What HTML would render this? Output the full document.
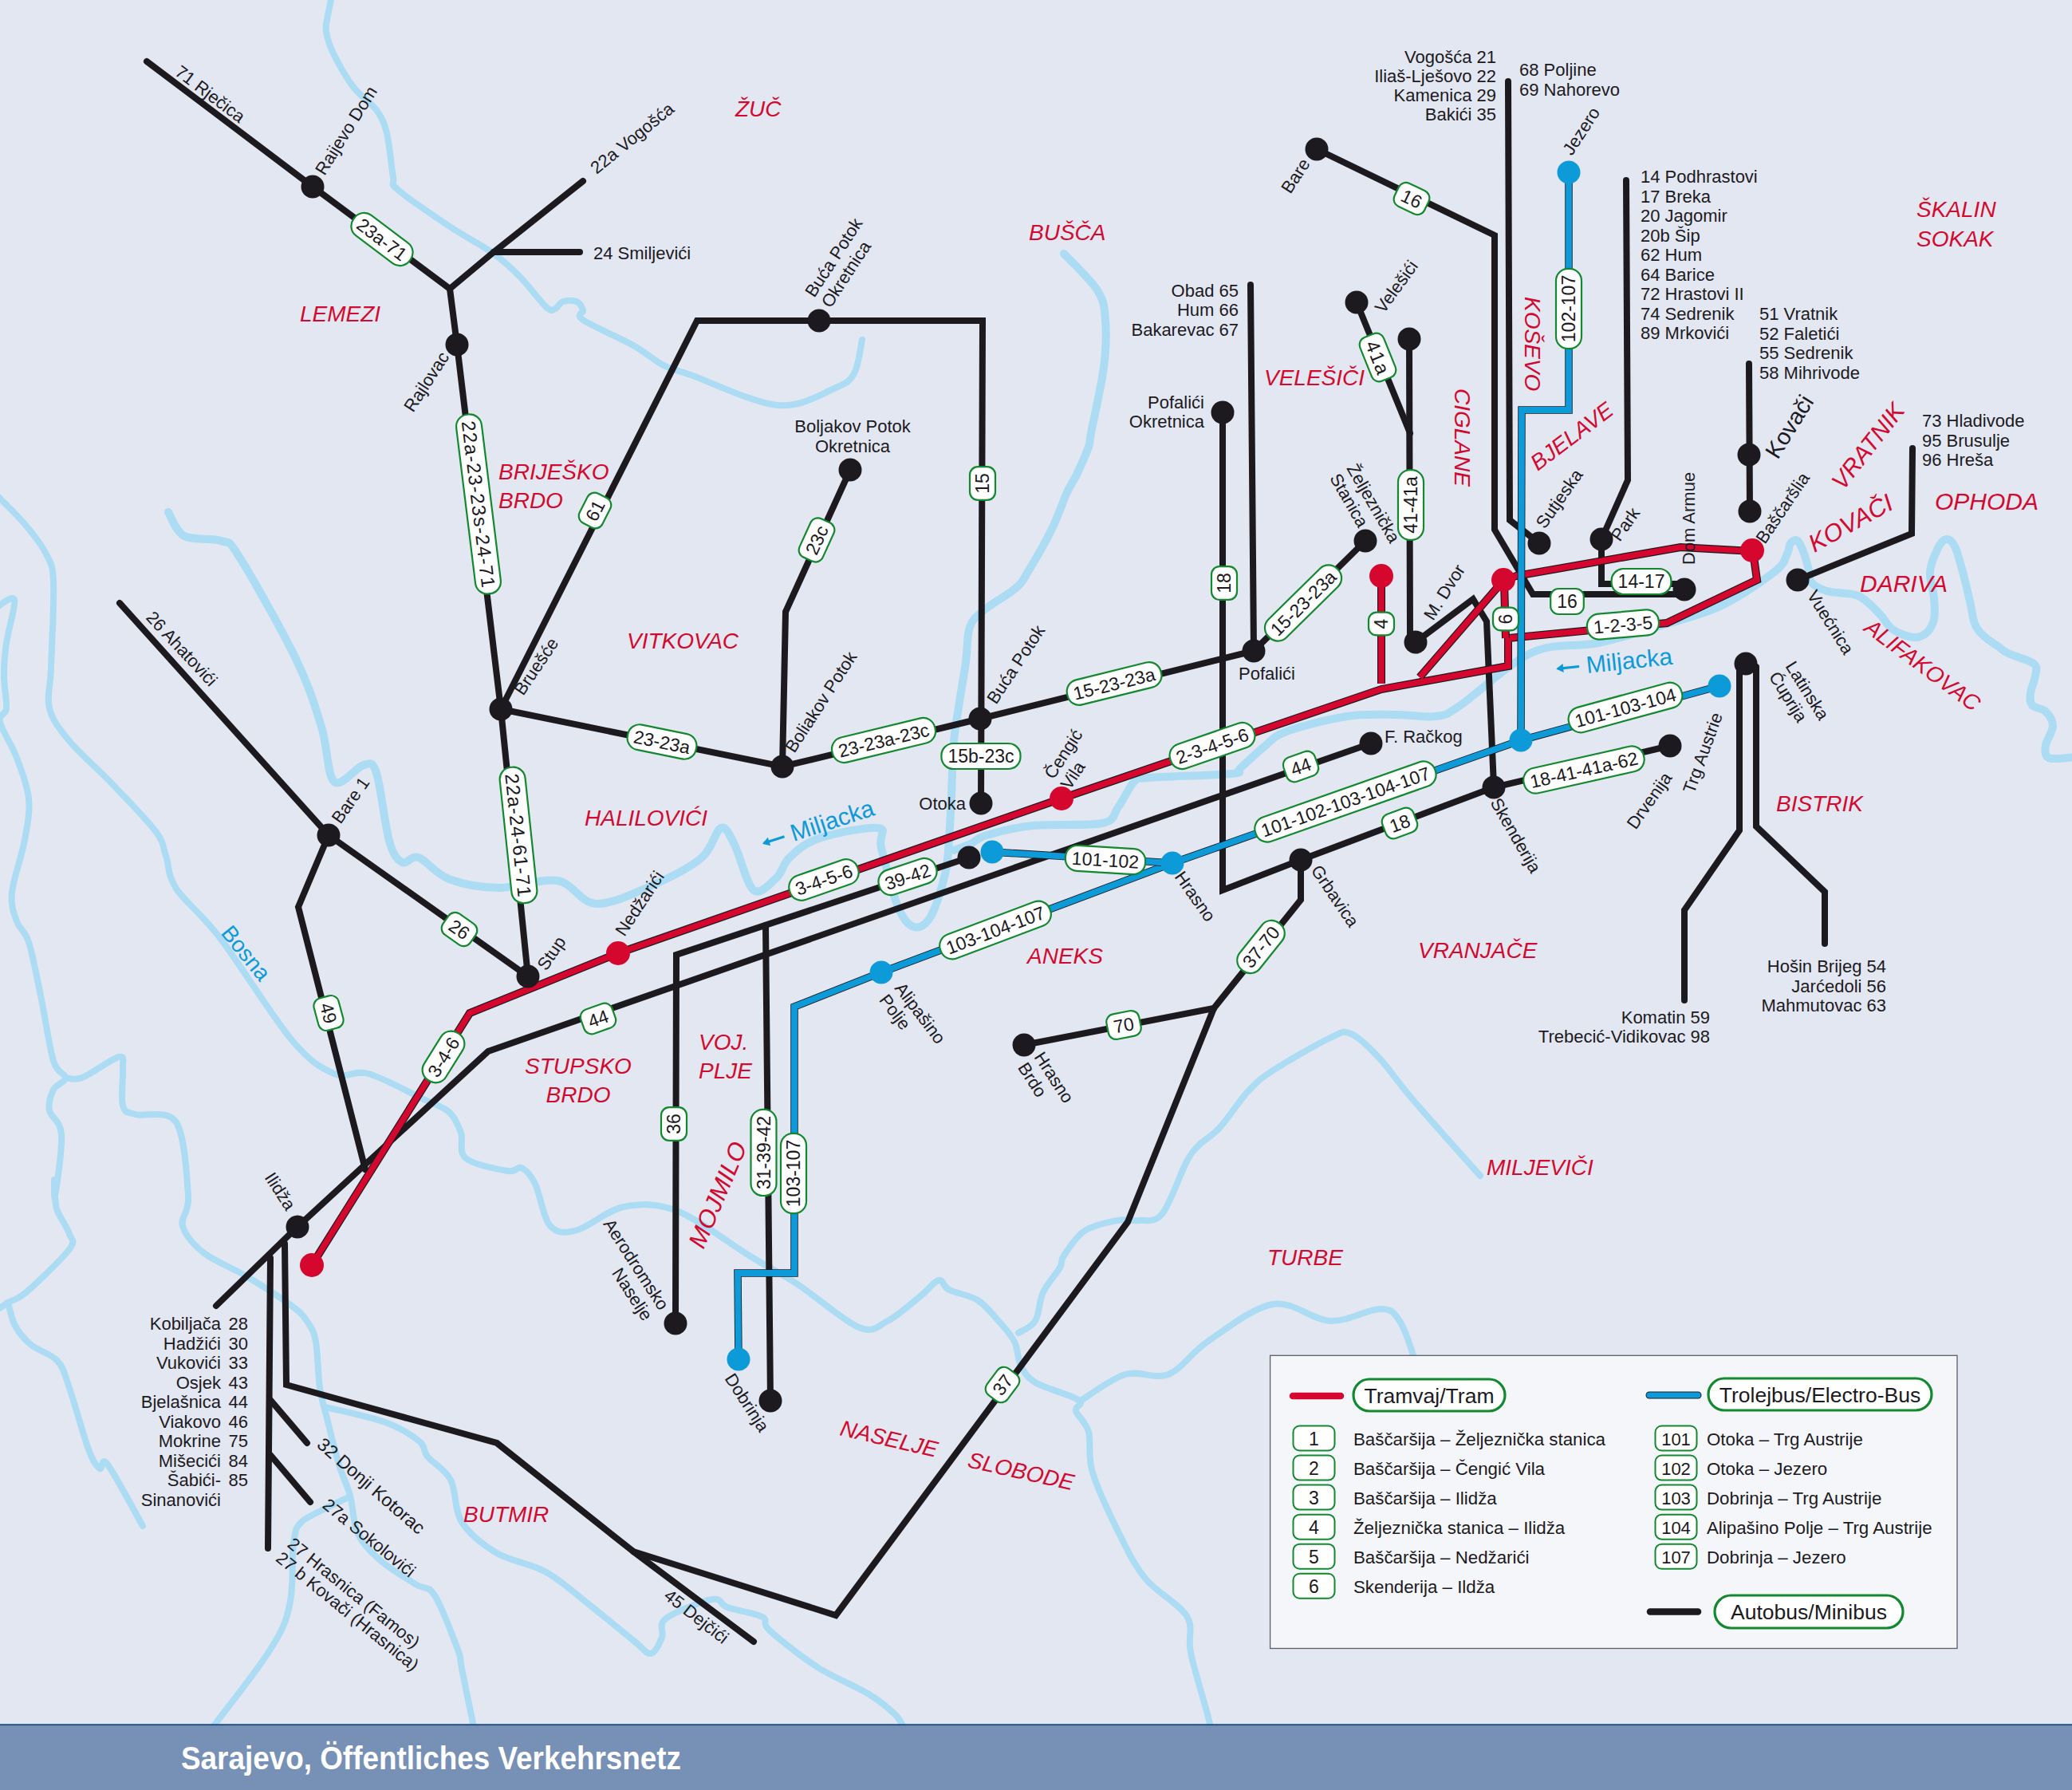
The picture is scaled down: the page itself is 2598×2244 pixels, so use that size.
<!DOCTYPE html>
<html><head><meta charset="utf-8"><style>
html,body{margin:0;padding:0;background:#e3e7f1;}
svg{display:block;font-family:"Liberation Sans", sans-serif;}
</style></head><body>
<svg width="2598" height="2244" viewBox="0 0 2598 2244">
<rect x="0" y="0" width="2598" height="2244" fill="#e3e7f1"/>
<path d="M416,-5 C415.0,0.0 411.2,17.5 410,25 C408.8,32.5 407.7,33.0 409,40 C410.3,47.0 412.3,55.5 418,67 C423.7,78.5 434.0,97.2 443,109 C452.0,120.8 465.0,128.3 472,138 C479.0,147.7 481.5,153.0 485,167 C488.5,181.0 490.7,210.2 493,222 C495.3,233.8 487.2,227.7 499,238 C510.8,248.3 544.0,270.7 564,284 C584.0,297.3 604.3,307.5 619,318 C633.7,328.5 641.0,335.8 652,347 C663.0,358.2 677.7,378.3 685,385 C692.3,391.7 692.5,388.2 696,387 C699.5,385.8 701.5,379.5 706,378 C710.5,376.5 718.8,376.2 723,378 C727.2,379.8 729.7,385.2 731,389 C732.3,392.8 720.5,393.7 731,401 C741.5,408.3 777.2,423.5 794,433 C810.8,442.5 820.0,451.8 832,458 C844.0,464.2 842.2,461.7 866,470 C889.8,478.3 945.0,505.2 975,508 C1005.0,510.8 1030.0,493.7 1046,487 C1062.0,480.3 1065.2,478.2 1071,468 C1076.8,457.8 1079.3,433.0 1081,426" fill="none" stroke="#abdcf3" stroke-width="8" stroke-linejoin="round" stroke-linecap="round"/>
<path d="M1334,318 C1341.0,325.7 1367.3,350.2 1376,364 C1384.7,377.8 1384.7,385.0 1386,401 C1387.3,417.0 1387.0,436.3 1384,460 C1381.0,483.7 1371.2,526.3 1368,543 C1364.8,559.7 1368.0,551.3 1365,560 C1362.0,568.7 1354.5,585.5 1350,595 C1345.5,604.5 1343.2,605.7 1338,617 C1332.8,628.3 1327.0,646.7 1319,663 C1311.0,679.3 1297.5,702.7 1290,715 C1282.5,727.3 1283.2,728.8 1274,737 C1264.8,745.2 1244.7,755.8 1235,764 C1225.3,772.2 1220.0,775.0 1216,786 C1212.0,797.0 1213.2,814.3 1211,830 C1208.8,845.7 1205.5,863.5 1203,880 C1200.5,896.5 1197.7,909.8 1196,929 C1194.3,948.2 1194.0,974.3 1193,995 C1192.0,1015.7 1191.3,1036.2 1190,1053 C1188.7,1069.8 1188.8,1080.0 1185,1096 C1181.2,1112.0 1173.5,1138.0 1167,1149 C1160.5,1160.0 1152.8,1164.0 1146,1162 C1139.2,1160.0 1132.8,1153.5 1126,1137 C1119.2,1120.5 1109.2,1079.5 1105,1063 C1100.8,1046.5 1114.0,1040.0 1101,1038 C1088.0,1036.0 1045.5,1044.8 1027,1051 C1008.5,1057.2 998.8,1066.8 990,1075 C981.2,1083.2 981.5,1093.2 974,1100 C966.5,1106.8 953.8,1122.8 945,1116 C936.2,1109.2 927.8,1072.0 921,1059 C914.2,1046.0 910.8,1035.3 904,1038 C897.2,1040.7 893.7,1063.3 880,1075 C866.3,1086.7 844.0,1098.3 822,1108 C800.0,1117.7 768.5,1133.7 748,1133 C727.5,1132.3 719.3,1107.3 699,1104 C678.7,1100.7 648.7,1113.3 626,1113 C603.3,1112.7 579.8,1108.3 563,1102 C546.2,1095.7 534.8,1078.5 525,1075 C515.2,1071.5 510.2,1084.5 504,1081 C497.8,1077.5 493.3,1072.7 488,1054 C482.7,1035.3 477.3,984.8 472,969 C466.7,953.2 464.8,957.2 456,959 C447.2,960.8 427.8,988.0 419,980 C410.2,972.0 411.0,936.7 403,911 C395.0,885.3 388.2,861.5 371,826 C353.8,790.5 315.7,722.7 300,698 C284.3,673.3 288.5,682.3 277,678 C265.5,673.7 242.0,678.0 231,672 C220.0,666.0 214.3,647.0 211,642" fill="none" stroke="#abdcf3" stroke-width="10" stroke-linejoin="round" stroke-linecap="round"/>
<path d="M1196,1066 C1199.5,1064.7 1210.2,1061.2 1217,1058 C1223.8,1054.8 1224.0,1050.8 1237,1047 C1250.0,1043.2 1270.8,1037.5 1295,1035 C1319.2,1032.5 1364.2,1035.8 1382,1032 C1399.8,1028.2 1395.3,1020.7 1402,1012 C1408.7,1003.3 1415.7,986.2 1422,980 C1428.3,973.8 1419.7,976.7 1440,975 C1460.3,973.3 1524.8,972.0 1544,970 C1563.2,968.0 1548.3,968.5 1555,963 C1561.7,957.5 1574.3,944.7 1584,937 C1593.7,929.3 1595.5,923.5 1613,917 C1630.5,910.5 1666.2,901.5 1689,898 C1711.8,894.5 1731.5,896.0 1750,896 C1768.5,896.0 1786.7,899.8 1800,898 C1813.3,896.2 1809.8,898.3 1830,885 C1850.2,871.7 1892.0,831.2 1921,818 C1950.0,804.8 1976.3,811.8 2004,806 C2031.7,800.2 2061.2,790.8 2087,783 C2112.8,775.2 2135.8,770.2 2159,759 C2182.2,747.8 2212.3,726.8 2226,716 C2239.7,705.2 2237.8,699.8 2241,694 C2244.2,688.2 2242.8,683.7 2245,681 C2247.2,678.3 2251.2,675.8 2254,678 C2256.8,680.2 2259.7,687.8 2262,694 C2264.3,700.2 2266.5,709.0 2268,715 C2269.5,721.0 2267.2,725.7 2271,730 C2274.8,734.3 2282.3,738.5 2291,741 C2299.7,743.5 2315.2,743.2 2323,745 C2330.8,746.8 2332.2,747.7 2338,752 C2343.8,756.3 2352.2,764.8 2358,771 C2363.8,777.2 2366.2,784.3 2373,789 C2379.8,793.7 2391.8,798.3 2399,799 C2406.2,799.7 2411.7,796.8 2416,793 C2420.3,789.2 2423.5,783.2 2425,776 C2426.5,768.8 2425.8,759.8 2425,750 C2424.2,740.2 2419.3,727.2 2420,717 C2420.7,706.8 2425.7,695.8 2429,689 C2432.3,682.2 2436.3,676.7 2440,676 C2443.7,675.3 2447.5,678.2 2451,685 C2454.5,691.8 2457.8,705.5 2461,717 C2464.2,728.5 2467.5,743.2 2470,754 C2472.5,764.8 2473.2,774.8 2476,782 C2478.8,789.2 2482.2,792.3 2487,797 C2491.8,801.7 2499.8,806.3 2505,810 C2510.2,813.7 2510.5,815.3 2518,819 C2525.5,822.7 2544.3,827.3 2550,832 C2555.7,836.7 2552.7,840.8 2552,847 C2551.3,853.2 2546.7,862.8 2546,869 C2545.3,875.2 2544.8,880.2 2548,884 C2551.2,887.8 2560.7,887.7 2565,892 C2569.3,896.3 2574.0,903.0 2574,910 C2574.0,917.0 2566.2,927.5 2565,934 C2563.8,940.5 2564.2,946.2 2567,949 C2569.8,951.8 2576.0,951.0 2582,951 C2588.0,951.0 2599.5,949.3 2603,949" fill="none" stroke="#abdcf3" stroke-width="10" stroke-linejoin="round" stroke-linecap="round"/>
<path d="M-5,620 C1.0,626.2 20.7,644.8 31,657 C41.3,669.2 51.0,681.0 57,693 C63.0,705.0 65.8,705.0 67,729 C68.2,753.0 64.8,810.5 64,837 C63.2,863.5 58.2,872.7 62,888 C65.8,903.3 74.2,913.5 87,929 C99.8,944.5 121.0,962.2 139,981 C157.0,999.8 183.5,1026.7 195,1042 C206.5,1057.3 203.7,1061.0 208,1073 C212.3,1085.0 209.7,1096.8 221,1114 C232.3,1131.2 251.8,1144.3 276,1176 C300.2,1207.7 342.2,1275.7 366,1304 C389.8,1332.3 403.0,1339.0 419,1346 C435.0,1353.0 443.3,1340.7 462,1346 C480.7,1351.3 514.2,1370.0 531,1378 C547.8,1386.0 555.2,1387.0 563,1394 C570.8,1401.0 574.5,1410.3 578,1420 C581.5,1429.7 574.2,1444.0 584,1452 C593.8,1460.0 625.3,1466.0 637,1468 C648.7,1470.0 648.3,1461.3 654,1464 C659.7,1466.7 665.0,1471.8 671,1484 C677.0,1496.2 681.2,1527.3 690,1537 C698.8,1546.7 708.7,1546.0 724,1542 C739.3,1538.0 761.2,1517.0 782,1513 C802.8,1509.0 822.5,1507.7 849,1518 C875.5,1528.3 915.8,1559.7 941,1575 C966.2,1590.3 977.3,1595.2 1000,1610 C1022.7,1624.8 1058.2,1656.3 1077,1664 C1095.8,1671.7 1100.2,1662.5 1113,1656 C1125.8,1649.5 1143.3,1633.5 1154,1625 C1164.7,1616.5 1171.0,1606.3 1177,1605 C1183.0,1603.7 1181.8,1612.8 1190,1617 C1198.2,1621.2 1215.7,1623.5 1226,1630 C1236.3,1636.5 1244.3,1647.3 1252,1656 C1259.7,1664.7 1267.3,1672.7 1272,1682 C1276.7,1691.3 1275.7,1703.5 1280,1712 C1284.3,1720.5 1287.3,1726.5 1298,1733 C1308.7,1739.5 1334.5,1746.7 1344,1751 C1353.5,1755.3 1354.2,1756.0 1355,1759 C1355.8,1762.0 1347.3,1763.0 1349,1769 C1350.7,1775.0 1361.5,1782.2 1365,1795 C1368.5,1807.8 1363.2,1823.8 1370,1846 C1376.8,1868.2 1394.8,1905.7 1406,1928 C1417.2,1950.3 1423.3,1963.7 1437,1980 C1450.7,1996.3 1478.7,2010.7 1488,2026 C1497.3,2041.3 1488.7,2051.5 1493,2072 C1497.3,2092.5 1509.7,2132.7 1514,2149 C1518.3,2165.3 1518.2,2166.5 1519,2170" fill="none" stroke="#abdcf3" stroke-width="8" stroke-linejoin="round" stroke-linecap="round"/>
<path d="M1277,1671 C1280.5,1668.5 1292.8,1664.5 1298,1656 C1303.2,1647.5 1302.8,1631.2 1308,1620 C1313.2,1608.8 1324.7,1596.7 1329,1589 C1333.3,1581.3 1328.8,1581.7 1334,1574 C1339.2,1566.3 1348.8,1550.3 1360,1543 C1371.2,1535.7 1389.8,1532.2 1401,1530 C1412.2,1527.8 1417.7,1531.3 1427,1530 C1436.3,1528.7 1446.8,1534.3 1457,1522 C1467.2,1509.7 1480.2,1470.5 1488,1456 C1495.8,1441.5 1497.2,1442.0 1504,1435 C1510.8,1428.0 1518.8,1425.2 1529,1414 C1539.2,1402.8 1553.8,1380.0 1565,1368 C1576.2,1356.0 1578.8,1353.2 1596,1342 C1613.2,1330.8 1651.7,1308.7 1668,1301 C1684.3,1293.3 1683.7,1291.7 1694,1296 C1704.3,1300.3 1717.2,1313.3 1730,1327 C1742.8,1340.7 1750.0,1353.5 1771,1378 C1792.0,1402.5 1841.8,1458.0 1856,1474" fill="none" stroke="#abdcf3" stroke-width="8" stroke-linejoin="round" stroke-linecap="round"/>
<path d="M1355,1756 C1364.3,1750.5 1392.7,1728.5 1411,1723 C1429.3,1717.5 1447.8,1729.8 1465,1723 C1482.2,1716.2 1492.2,1696.7 1514,1682 C1535.8,1667.3 1570.3,1639.3 1596,1635 C1621.7,1630.7 1645.7,1655.0 1668,1656 C1690.3,1657.0 1715.5,1641.0 1730,1641 C1744.5,1641.0 1747.3,1644.2 1755,1656 C1762.7,1667.8 1771.8,1698.0 1776,1712 C1780.2,1726.0 1779.3,1735.3 1780,1740" fill="none" stroke="#abdcf3" stroke-width="8" stroke-linejoin="round" stroke-linecap="round"/>
<path d="M-5,762 C-1.2,760.3 15.8,744.7 18,752 C20.2,759.3 10.2,790.2 8,806 C5.8,821.8 5.0,833.3 5,847 C5.0,860.7 8.8,878.3 8,888 C7.2,897.7 -2.2,894.7 0,905 C2.2,915.3 15.0,934.0 21,950 C27.0,966.0 34.3,983.8 36,1001 C37.7,1018.2 34.5,1033.3 31,1053 C27.5,1072.7 16.7,1102.0 15,1119 C13.3,1136.0 17.5,1144.7 21,1155 C24.5,1165.3 31.0,1165.5 36,1181 C41.0,1196.5 45.8,1223.2 51,1248 C56.2,1272.8 61.8,1312.8 67,1330 C72.2,1347.2 82.0,1345.0 82,1351 C82.0,1357.0 70.3,1359.2 67,1366 C63.7,1372.8 60.3,1382.7 62,1392 C63.7,1401.3 75.8,1404.0 77,1422 C78.2,1440.0 70.5,1490.5 69,1500 C67.5,1509.5 68.2,1482.5 68,1479" fill="none" stroke="#abdcf3" stroke-width="8" stroke-linejoin="round" stroke-linecap="round"/>
<path d="M82,1351 C85.5,1351.0 91.8,1355.3 103,1351 C114.2,1346.7 140.5,1326.8 149,1325 C157.5,1323.2 153.2,1329.8 154,1340 C154.8,1350.2 151.3,1376.5 154,1386 C156.7,1395.5 158.8,1393.5 170,1397 C181.2,1400.5 210.0,1389.8 221,1407 C232.0,1424.2 234.7,1478.3 236,1500 C237.3,1521.7 225.7,1525.2 229,1537 C232.3,1548.8 242.7,1560.5 256,1571 C269.3,1581.5 290.5,1588.8 309,1600 C327.5,1611.2 354.2,1628.3 367,1638 C379.8,1647.7 381.2,1650.7 386,1658 C390.8,1665.3 393.5,1668.3 396,1682 C398.5,1695.7 398.7,1724.0 401,1740 C403.3,1756.0 406.0,1762.0 410,1778 C414.0,1794.0 420.2,1819.8 425,1836 C429.8,1852.2 435.0,1860.5 439,1875 C443.0,1889.5 442.5,1909.3 449,1923 C455.5,1936.7 466.0,1946.5 478,1957 C490.0,1967.5 509.8,1978.8 521,1986 C532.2,1993.2 536.2,1986.3 545,2000 C553.8,2013.7 568.3,2052.7 574,2068 C579.7,2083.3 575.7,2075.8 579,2092 C582.3,2108.2 591.5,2152.8 594,2165" fill="none" stroke="#abdcf3" stroke-width="8" stroke-linejoin="round" stroke-linecap="round"/>
<path d="M69,1500 C69.5,1503.0 69.0,1510.2 72,1518 C75.0,1525.8 84.5,1539.0 87,1547 C89.5,1555.0 95.8,1554.0 87,1566 C78.2,1578.0 46.8,1607.8 34,1619 C21.2,1630.2 16.5,1629.0 10,1633 C3.5,1637.0 -2.5,1641.3 -5,1643" fill="none" stroke="#abdcf3" stroke-width="8" stroke-linejoin="round" stroke-linecap="round"/>
<path d="M10,1633 C11.5,1637.8 14.2,1653.2 19,1662 C23.8,1670.8 30.2,1678.7 39,1686 C47.8,1693.3 64.0,1697.0 72,1706 C80.0,1715.0 80.5,1721.5 87,1740 C93.5,1758.5 104.7,1800.2 111,1817 C117.3,1833.8 121.0,1837.8 125,1841 C129.0,1844.2 126.0,1824.0 135,1836 C144.0,1848.0 171.7,1900.2 179,1913" fill="none" stroke="#abdcf3" stroke-width="8" stroke-linejoin="round" stroke-linecap="round"/>
<path d="M439,1876 C432.5,1879.2 410.5,1889.3 400,1895 C389.5,1900.7 381.3,1903.3 376,1910 C370.7,1916.7 371.5,1913.5 368,1935 C364.5,1956.5 371.8,2000.7 355,2039 C338.2,2077.3 281.7,2144.0 267,2165" fill="none" stroke="#abdcf3" stroke-width="8" stroke-linejoin="round" stroke-linecap="round"/>
<path d="M408,1764 C420.5,1767.2 463.3,1775.8 483,1783 C502.7,1790.2 517.2,1799.8 526,1807 C534.8,1814.2 529.5,1818.0 536,1826 C542.5,1834.0 557.8,1841.3 565,1855 C572.2,1868.7 569.3,1892.7 579,1908 C588.7,1923.3 605.3,1936.5 623,1947 C640.7,1957.5 665.0,1959.7 685,1971 C705.0,1982.3 724.5,2000.5 743,2015 C761.5,2029.5 783.8,2048.3 796,2058 C808.2,2067.7 810.3,2073.8 816,2073 C821.7,2072.2 826.8,2060.3 830,2053 C833.2,2045.7 824.5,2037.0 835,2029 C845.5,2021.0 880.2,2007.3 893,2005 C905.8,2002.7 901.5,2011.3 912,2015 C922.5,2018.7 947.2,2022.2 956,2027 C964.8,2031.8 953.5,2033.5 965,2044 C976.5,2054.5 1004.5,2076.8 1025,2090 C1045.5,2103.2 1072.0,2113.3 1088,2123 C1104.0,2132.7 1113.5,2141.0 1121,2148 C1128.5,2155.0 1131.0,2162.2 1133,2165" fill="none" stroke="#abdcf3" stroke-width="8" stroke-linejoin="round" stroke-linecap="round"/>
<polyline points="184,77 392,234 564,362" fill="none" stroke="#1c1a1e" stroke-width="8" stroke-linejoin="miter" stroke-linecap="round"/>
<polyline points="564,362 619,316 731,227" fill="none" stroke="#1c1a1e" stroke-width="8" stroke-linejoin="miter" stroke-linecap="round"/>
<polyline points="619,316 727,316" fill="none" stroke="#1c1a1e" stroke-width="8" stroke-linejoin="miter" stroke-linecap="round"/>
<polyline points="564,362 573,432 628,889 662,1224" fill="none" stroke="#1c1a1e" stroke-width="8" stroke-linejoin="miter" stroke-linecap="round"/>
<polyline points="628,889 874,402 1232,402 1230,1007" fill="none" stroke="#1c1a1e" stroke-width="8" stroke-linejoin="miter" stroke-linecap="round"/>
<polyline points="628,889 981,961 1229,901 1572,816" fill="none" stroke="#1c1a1e" stroke-width="8" stroke-linejoin="miter" stroke-linecap="round"/>
<polyline points="981,961 985,767 1066,589" fill="none" stroke="#1c1a1e" stroke-width="8" stroke-linejoin="miter" stroke-linecap="round"/>
<polyline points="150,756 412,1047 662,1224" fill="none" stroke="#1c1a1e" stroke-width="8" stroke-linejoin="miter" stroke-linecap="round"/>
<polyline points="412,1047 374,1137 458,1466" fill="none" stroke="#1c1a1e" stroke-width="8" stroke-linejoin="miter" stroke-linecap="round"/>
<polyline points="1719,932 612,1318 373,1538 271,1637" fill="none" stroke="#1c1a1e" stroke-width="8" stroke-linejoin="miter" stroke-linecap="round"/>
<polyline points="847,1659 848,1197 1215,1075" fill="none" stroke="#1c1a1e" stroke-width="8" stroke-linejoin="miter" stroke-linecap="round"/>
<polyline points="960,1160 966,1756" fill="none" stroke="#1c1a1e" stroke-width="8" stroke-linejoin="miter" stroke-linecap="round"/>
<polyline points="1533,517 1533,1116 1631,1078 1873,987 2094,935" fill="none" stroke="#1c1a1e" stroke-width="8" stroke-linejoin="miter" stroke-linecap="round"/>
<polyline points="1631,1078 1631,1128 1522,1264 1414,1532 1048,2025 794,1945 623,1809 359,1736 357,1559" fill="none" stroke="#1c1a1e" stroke-width="8" stroke-linejoin="miter" stroke-linecap="round"/>
<polyline points="794,1945 945,2058" fill="none" stroke="#1c1a1e" stroke-width="8" stroke-linejoin="miter" stroke-linecap="round"/>
<polyline points="1284,1310 1522,1264" fill="none" stroke="#1c1a1e" stroke-width="8" stroke-linejoin="miter" stroke-linecap="round"/>
<polyline points="1651,187 1874,295 1874,664 1922,745 2112,745" fill="none" stroke="#1c1a1e" stroke-width="8" stroke-linejoin="miter" stroke-linecap="round"/>
<polyline points="1891,102 1893,652 1930,681" fill="none" stroke="#1c1a1e" stroke-width="8" stroke-linejoin="miter" stroke-linecap="round"/>
<polyline points="2039,226 2041,602 2008,676 2008,732 2112,732" fill="none" stroke="#1c1a1e" stroke-width="8" stroke-linejoin="miter" stroke-linecap="round"/>
<polyline points="1701,379 1768,543" fill="none" stroke="#1c1a1e" stroke-width="8" stroke-linejoin="miter" stroke-linecap="round"/>
<polyline points="1767,425 1768,805" fill="none" stroke="#1c1a1e" stroke-width="8" stroke-linejoin="miter" stroke-linecap="round"/>
<polyline points="1775,805 1847,751 1864,779 1873,985" fill="none" stroke="#1c1a1e" stroke-width="8" stroke-linejoin="miter" stroke-linecap="round"/>
<polyline points="1568,357 1572,816 1712,678" fill="none" stroke="#1c1a1e" stroke-width="8" stroke-linejoin="miter" stroke-linecap="round"/>
<polyline points="2193,456 2194,641" fill="none" stroke="#1c1a1e" stroke-width="8" stroke-linejoin="miter" stroke-linecap="round"/>
<polyline points="2398,562 2397,669 2254,727" fill="none" stroke="#1c1a1e" stroke-width="8" stroke-linejoin="miter" stroke-linecap="round"/>
<polyline points="2181,836 2181,1041 2112,1141 2112,1254" fill="none" stroke="#1c1a1e" stroke-width="8" stroke-linejoin="miter" stroke-linecap="round"/>
<polyline points="2202,836 2202,1036 2288,1118 2288,1183" fill="none" stroke="#1c1a1e" stroke-width="8" stroke-linejoin="miter" stroke-linecap="round"/>
<polyline points="339,1577 336,1941" fill="none" stroke="#1c1a1e" stroke-width="8" stroke-linejoin="miter" stroke-linecap="round"/>
<polyline points="339,1755 385,1809" fill="none" stroke="#1c1a1e" stroke-width="8" stroke-linejoin="miter" stroke-linecap="round"/>
<polyline points="339,1824 389,1883" fill="none" stroke="#1c1a1e" stroke-width="8" stroke-linejoin="miter" stroke-linecap="round"/>
<polyline points="391,1586 589,1270 775,1195 1331,1001 1732,864 1891,835 1891,800 2090,781 2203,727 2198,691 2107,686 1901,722 1884,729 1780,849" fill="none" stroke="#1c1a1e" stroke-width="10" stroke-linejoin="miter" stroke-linecap="butt"/>
<polyline points="391,1586 589,1270 775,1195 1331,1001 1732,864 1891,835 1891,800 2090,781 2203,727 2198,691 2107,686 1901,722 1884,729 1780,849" fill="none" stroke="#d5072e" stroke-width="7.6" stroke-linejoin="miter" stroke-linecap="butt"/>
<polyline points="1732,722 1732,857" fill="none" stroke="#1c1a1e" stroke-width="10" stroke-linejoin="miter" stroke-linecap="butt"/>
<polyline points="1732,722 1732,857" fill="none" stroke="#d5072e" stroke-width="7.6" stroke-linejoin="miter" stroke-linecap="butt"/>
<polyline points="1886,729 1888,800" fill="none" stroke="#1c1a1e" stroke-width="10" stroke-linejoin="miter" stroke-linecap="butt"/>
<polyline points="1886,729 1888,800" fill="none" stroke="#d5072e" stroke-width="7.6" stroke-linejoin="miter" stroke-linecap="butt"/>
<polyline points="1967,216 1967,514 1908,514 1907,928 2156,860" fill="none" stroke="#1c1a1e" stroke-width="9.5" stroke-linejoin="miter" stroke-linecap="butt"/>
<polyline points="1967,216 1967,514 1908,514 1907,928 2156,860" fill="none" stroke="#0d9ad9" stroke-width="7.8" stroke-linejoin="miter" stroke-linecap="butt"/>
<polyline points="1907,928 1470,1082 1105,1219 996,1262 996,1596 925,1596 926,1704" fill="none" stroke="#1c1a1e" stroke-width="9.5" stroke-linejoin="miter" stroke-linecap="butt"/>
<polyline points="1907,928 1470,1082 1105,1219 996,1262 996,1596 925,1596 926,1704" fill="none" stroke="#0d9ad9" stroke-width="7.8" stroke-linejoin="miter" stroke-linecap="butt"/>
<polyline points="1244,1068 1470,1082" fill="none" stroke="#1c1a1e" stroke-width="9.5" stroke-linejoin="miter" stroke-linecap="butt"/>
<polyline points="1244,1068 1470,1082" fill="none" stroke="#0d9ad9" stroke-width="7.8" stroke-linejoin="miter" stroke-linecap="butt"/>
<circle cx="392" cy="234" r="14.5" fill="#1c1a1e"/>
<circle cx="573" cy="432" r="14.5" fill="#1c1a1e"/>
<circle cx="628" cy="889" r="14.5" fill="#1c1a1e"/>
<circle cx="662" cy="1224" r="14.5" fill="#1c1a1e"/>
<circle cx="412" cy="1047" r="14.5" fill="#1c1a1e"/>
<circle cx="1027" cy="402" r="14.5" fill="#1c1a1e"/>
<circle cx="1230" cy="1007" r="14.5" fill="#1c1a1e"/>
<circle cx="1229" cy="901" r="14.5" fill="#1c1a1e"/>
<circle cx="981" cy="961" r="14.5" fill="#1c1a1e"/>
<circle cx="1066" cy="589" r="14.5" fill="#1c1a1e"/>
<circle cx="1572" cy="816" r="14.5" fill="#1c1a1e"/>
<circle cx="1533" cy="517" r="14.5" fill="#1c1a1e"/>
<circle cx="1712" cy="678" r="14.5" fill="#1c1a1e"/>
<circle cx="1701" cy="379" r="14.5" fill="#1c1a1e"/>
<circle cx="1767" cy="425" r="14.5" fill="#1c1a1e"/>
<circle cx="1775" cy="805" r="14.5" fill="#1c1a1e"/>
<circle cx="1651" cy="187" r="14.5" fill="#1c1a1e"/>
<circle cx="1930" cy="681" r="14.5" fill="#1c1a1e"/>
<circle cx="2008" cy="676" r="14.5" fill="#1c1a1e"/>
<circle cx="2112" cy="739" r="14.5" fill="#1c1a1e"/>
<circle cx="1719" cy="932" r="14.5" fill="#1c1a1e"/>
<circle cx="1215" cy="1075" r="14.5" fill="#1c1a1e"/>
<circle cx="1631" cy="1078" r="14.5" fill="#1c1a1e"/>
<circle cx="1873" cy="987" r="14.5" fill="#1c1a1e"/>
<circle cx="2094" cy="935" r="14.5" fill="#1c1a1e"/>
<circle cx="1284" cy="1310" r="14.5" fill="#1c1a1e"/>
<circle cx="847" cy="1659" r="14.5" fill="#1c1a1e"/>
<circle cx="966" cy="1756" r="14.5" fill="#1c1a1e"/>
<circle cx="373" cy="1538" r="14.5" fill="#1c1a1e"/>
<circle cx="2193" cy="570" r="14.5" fill="#1c1a1e"/>
<circle cx="2194" cy="641" r="14.5" fill="#1c1a1e"/>
<circle cx="2254" cy="727" r="14.5" fill="#1c1a1e"/>
<circle cx="2189" cy="832" r="14.5" fill="#1c1a1e"/>
<circle cx="391" cy="1586" r="15" fill="#d5072e"/>
<circle cx="775" cy="1195" r="15" fill="#d5072e"/>
<circle cx="1331" cy="1001" r="15" fill="#d5072e"/>
<circle cx="1732" cy="722" r="15" fill="#d5072e"/>
<circle cx="1885" cy="727" r="15" fill="#d5072e"/>
<circle cx="2197" cy="690" r="15" fill="#d5072e"/>
<circle cx="1967" cy="216" r="14.5" fill="#0d9ad9"/>
<circle cx="2156" cy="860" r="14.5" fill="#0d9ad9"/>
<circle cx="1907" cy="928" r="14.5" fill="#0d9ad9"/>
<circle cx="1470" cy="1082" r="14.5" fill="#0d9ad9"/>
<circle cx="1244" cy="1068" r="14.5" fill="#0d9ad9"/>
<circle cx="1105" cy="1219" r="14.5" fill="#0d9ad9"/>
<circle cx="926" cy="1704" r="14.5" fill="#0d9ad9"/>
<g transform="translate(479,300) rotate(37)"><rect x="-43.8" y="-16.0" width="87.6" height="32" rx="15" ry="15" fill="#fff" stroke="#13892f" stroke-width="2.2"/><text x="0" y="8.3" font-size="23" text-anchor="middle" fill="#1c1a1e">23a-71</text></g>
<g transform="translate(600,632) rotate(83)"><rect x="-113.2" y="-16.0" width="226.3" height="32" rx="15" ry="15" fill="#fff" stroke="#13892f" stroke-width="2.2"/><text x="0.65" y="8.6" font-size="24" text-anchor="middle" fill="#1c1a1e" letter-spacing="1.3">22a-23-23s-24-71</text></g>
<g transform="translate(746,640) rotate(-63)"><rect x="-20.8" y="-16.0" width="41.6" height="32" rx="10" ry="10" fill="#fff" stroke="#13892f" stroke-width="2.2"/><text x="0" y="8.3" font-size="23" text-anchor="middle" fill="#1c1a1e">61</text></g>
<g transform="translate(650,1047) rotate(84)"><rect x="-85.6" y="-16.0" width="171.1" height="32" rx="15" ry="15" fill="#fff" stroke="#13892f" stroke-width="2.2"/><text x="0.5" y="8.6" font-size="24" text-anchor="middle" fill="#1c1a1e" letter-spacing="1.0">22a-24-61-71</text></g>
<g transform="translate(576,1165) rotate(35)"><rect x="-20.8" y="-16.0" width="41.6" height="32" rx="10" ry="10" fill="#fff" stroke="#13892f" stroke-width="2.2"/><text x="0" y="8.3" font-size="23" text-anchor="middle" fill="#1c1a1e">26</text></g>
<g transform="translate(412,1270) rotate(75)"><rect x="-20.8" y="-16.0" width="41.6" height="32" rx="10" ry="10" fill="#fff" stroke="#13892f" stroke-width="2.2"/><text x="0" y="8.3" font-size="23" text-anchor="middle" fill="#1c1a1e">49</text></g>
<g transform="translate(556,1325) rotate(-58)"><rect x="-34.8" y="-16.0" width="69.7" height="32" rx="15" ry="15" fill="#fff" stroke="#13892f" stroke-width="2.2"/><text x="0" y="8.3" font-size="23" text-anchor="middle" fill="#1c1a1e">3-4-6</text></g>
<g transform="translate(750,1277) rotate(-19.5)"><rect x="-20.8" y="-16.0" width="41.6" height="32" rx="10" ry="10" fill="#fff" stroke="#13892f" stroke-width="2.2"/><text x="0" y="8.3" font-size="23" text-anchor="middle" fill="#1c1a1e">44</text></g>
<g transform="translate(1033,1103) rotate(-19.2)"><rect x="-45.1" y="-16.0" width="90.1" height="32" rx="15" ry="15" fill="#fff" stroke="#13892f" stroke-width="2.2"/><text x="0" y="8.3" font-size="23" text-anchor="middle" fill="#1c1a1e">3-4-5-6</text></g>
<g transform="translate(1138,1099) rotate(-18.4)"><rect x="-37.4" y="-16.0" width="74.8" height="32" rx="15" ry="15" fill="#fff" stroke="#13892f" stroke-width="2.2"/><text x="0" y="8.3" font-size="23" text-anchor="middle" fill="#1c1a1e">39-42</text></g>
<g transform="translate(830,930) rotate(11.5)"><rect x="-43.8" y="-16.0" width="87.6" height="32" rx="15" ry="15" fill="#fff" stroke="#13892f" stroke-width="2.2"/><text x="0" y="8.3" font-size="23" text-anchor="middle" fill="#1c1a1e">23-23a</text></g>
<g transform="translate(1108,928) rotate(-13.6)"><rect x="-66.2" y="-16.0" width="132.4" height="32" rx="15" ry="15" fill="#fff" stroke="#13892f" stroke-width="2.2"/><text x="0" y="8.3" font-size="23" text-anchor="middle" fill="#1c1a1e">23-23a-23c</text></g>
<g transform="translate(1397,857) rotate(-13.9)"><rect x="-60.4" y="-16.0" width="120.9" height="32" rx="15" ry="15" fill="#fff" stroke="#13892f" stroke-width="2.2"/><text x="0" y="8.3" font-size="23" text-anchor="middle" fill="#1c1a1e">15-23-23a</text></g>
<g transform="translate(1230,948) rotate(0)"><rect x="-49.6" y="-16.0" width="99.1" height="32" rx="15" ry="15" fill="#fff" stroke="#13892f" stroke-width="2.2"/><text x="0" y="8.3" font-size="23" text-anchor="middle" fill="#1c1a1e">15b-23c</text></g>
<g transform="translate(1232,606) rotate(-90)"><rect x="-20.8" y="-16.0" width="41.6" height="32" rx="10" ry="10" fill="#fff" stroke="#13892f" stroke-width="2.2"/><text x="0" y="8.3" font-size="23" text-anchor="middle" fill="#1c1a1e">15</text></g>
<g transform="translate(1024,677) rotate(-65.5)"><rect x="-26.5" y="-16.0" width="53.1" height="32" rx="10" ry="10" fill="#fff" stroke="#13892f" stroke-width="2.2"/><text x="0" y="8.3" font-size="23" text-anchor="middle" fill="#1c1a1e">23c</text></g>
<g transform="translate(1535,731) rotate(-90)"><rect x="-20.8" y="-16.0" width="41.6" height="32" rx="10" ry="10" fill="#fff" stroke="#13892f" stroke-width="2.2"/><text x="0" y="8.3" font-size="23" text-anchor="middle" fill="#1c1a1e">18</text></g>
<g transform="translate(1727.5,448) rotate(68)"><rect x="-29.5" y="-16.0" width="59.0" height="32" rx="10" ry="10" fill="#fff" stroke="#13892f" stroke-width="2.2"/><text x="0.75" y="8.6" font-size="24" text-anchor="middle" fill="#1c1a1e" letter-spacing="1.5">41a</text></g>
<g transform="translate(1769,633) rotate(-90)"><rect x="-43.8" y="-16.0" width="87.6" height="32" rx="15" ry="15" fill="#fff" stroke="#13892f" stroke-width="2.2"/><text x="0" y="8.3" font-size="23" text-anchor="middle" fill="#1c1a1e">41-41a</text></g>
<g transform="translate(1634,756) rotate(-44.6)"><rect x="-60.4" y="-16.0" width="120.9" height="32" rx="15" ry="15" fill="#fff" stroke="#13892f" stroke-width="2.2"/><text x="0" y="8.3" font-size="23" text-anchor="middle" fill="#1c1a1e">15-23-23a</text></g>
<g transform="translate(1732,782) rotate(-90)"><rect x="-14.4" y="-16.0" width="28.8" height="32" rx="10" ry="10" fill="#fff" stroke="#13892f" stroke-width="2.2"/><text x="0" y="8.3" font-size="23" text-anchor="middle" fill="#1c1a1e">4</text></g>
<g transform="translate(1888,776) rotate(-90)"><rect x="-14.4" y="-16.0" width="28.8" height="32" rx="10" ry="10" fill="#fff" stroke="#13892f" stroke-width="2.2"/><text x="0" y="8.3" font-size="23" text-anchor="middle" fill="#1c1a1e">6</text></g>
<g transform="translate(1520,935) rotate(-19)"><rect x="-55.3" y="-16.0" width="110.6" height="32" rx="15" ry="15" fill="#fff" stroke="#13892f" stroke-width="2.2"/><text x="0" y="8.3" font-size="23" text-anchor="middle" fill="#1c1a1e">2-3-4-5-6</text></g>
<g transform="translate(1631,961) rotate(-19.4)"><rect x="-20.8" y="-16.0" width="41.6" height="32" rx="10" ry="10" fill="#fff" stroke="#13892f" stroke-width="2.2"/><text x="0" y="8.3" font-size="23" text-anchor="middle" fill="#1c1a1e">44</text></g>
<g transform="translate(1386,1078) rotate(3.5)"><rect x="-50.2" y="-16.0" width="100.4" height="32" rx="15" ry="15" fill="#fff" stroke="#13892f" stroke-width="2.2"/><text x="0" y="8.3" font-size="23" text-anchor="middle" fill="#1c1a1e">101-102</text></g>
<g transform="translate(1687,1005) rotate(-19.4)"><rect x="-119.3" y="-16.0" width="238.5" height="32" rx="15" ry="15" fill="#fff" stroke="#13892f" stroke-width="2.2"/><text x="0" y="8.3" font-size="23" text-anchor="middle" fill="#1c1a1e">101-102-103-104-107</text></g>
<g transform="translate(1248,1166) rotate(-20.6)"><rect x="-73.2" y="-16.0" width="146.4" height="32" rx="15" ry="15" fill="#fff" stroke="#13892f" stroke-width="2.2"/><text x="0" y="8.3" font-size="23" text-anchor="middle" fill="#1c1a1e">103-104-107</text></g>
<g transform="translate(1581,1187) rotate(-51.3)"><rect x="-37.4" y="-16.0" width="74.8" height="32" rx="15" ry="15" fill="#fff" stroke="#13892f" stroke-width="2.2"/><text x="0" y="8.3" font-size="23" text-anchor="middle" fill="#1c1a1e">37-70</text></g>
<g transform="translate(1409,1285) rotate(-10.9)"><rect x="-20.8" y="-16.0" width="41.6" height="32" rx="10" ry="10" fill="#fff" stroke="#13892f" stroke-width="2.2"/><text x="0" y="8.3" font-size="23" text-anchor="middle" fill="#1c1a1e">70</text></g>
<g transform="translate(845,1409) rotate(-90)"><rect x="-20.8" y="-16.0" width="41.6" height="32" rx="10" ry="10" fill="#fff" stroke="#13892f" stroke-width="2.2"/><text x="0" y="8.3" font-size="23" text-anchor="middle" fill="#1c1a1e">36</text></g>
<g transform="translate(957.5,1445) rotate(-90)"><rect x="-54.0" y="-16.0" width="108.1" height="32" rx="15" ry="15" fill="#fff" stroke="#13892f" stroke-width="2.2"/><text x="0" y="8.3" font-size="23" text-anchor="middle" fill="#1c1a1e">31-39-42</text></g>
<g transform="translate(995,1471) rotate(-90)"><rect x="-50.2" y="-16.0" width="100.4" height="32" rx="15" ry="15" fill="#fff" stroke="#13892f" stroke-width="2.2"/><text x="0" y="8.3" font-size="23" text-anchor="middle" fill="#1c1a1e">103-107</text></g>
<g transform="translate(1257,1736) rotate(-53.4)"><rect x="-20.8" y="-16.0" width="41.6" height="32" rx="10" ry="10" fill="#fff" stroke="#13892f" stroke-width="2.2"/><text x="0" y="8.3" font-size="23" text-anchor="middle" fill="#1c1a1e">37</text></g>
<g transform="translate(1770,249) rotate(25.8)"><rect x="-20.8" y="-16.0" width="41.6" height="32" rx="10" ry="10" fill="#fff" stroke="#13892f" stroke-width="2.2"/><text x="0" y="8.3" font-size="23" text-anchor="middle" fill="#1c1a1e">16</text></g>
<g transform="translate(1967,387) rotate(-90)"><rect x="-50.2" y="-16.0" width="100.4" height="32" rx="15" ry="15" fill="#fff" stroke="#13892f" stroke-width="2.2"/><text x="0" y="8.3" font-size="23" text-anchor="middle" fill="#1c1a1e">102-107</text></g>
<g transform="translate(2058,729) rotate(0)"><rect x="-37.4" y="-16.0" width="74.8" height="32" rx="15" ry="15" fill="#fff" stroke="#13892f" stroke-width="2.2"/><text x="0" y="8.3" font-size="23" text-anchor="middle" fill="#1c1a1e">14-17</text></g>
<g transform="translate(1965,754) rotate(0)"><rect x="-20.8" y="-16.0" width="41.6" height="32" rx="10" ry="10" fill="#fff" stroke="#13892f" stroke-width="2.2"/><text x="0" y="8.3" font-size="23" text-anchor="middle" fill="#1c1a1e">16</text></g>
<g transform="translate(2035,783) rotate(-5)"><rect x="-45.1" y="-16.0" width="90.1" height="32" rx="15" ry="15" fill="#fff" stroke="#13892f" stroke-width="2.2"/><text x="0" y="8.3" font-size="23" text-anchor="middle" fill="#1c1a1e">1-2-3-5</text></g>
<g transform="translate(2038,887) rotate(-15.3)"><rect x="-73.2" y="-16.0" width="146.4" height="32" rx="15" ry="15" fill="#fff" stroke="#13892f" stroke-width="2.2"/><text x="0" y="8.3" font-size="23" text-anchor="middle" fill="#1c1a1e">101-103-104</text></g>
<g transform="translate(1986,965) rotate(-12.7)"><rect x="-77.1" y="-16.0" width="154.1" height="32" rx="15" ry="15" fill="#fff" stroke="#13892f" stroke-width="2.2"/><text x="0" y="8.3" font-size="23" text-anchor="middle" fill="#1c1a1e">18-41-41a-62</text></g>
<g transform="translate(1755,1032) rotate(-20.6)"><rect x="-20.8" y="-16.0" width="41.6" height="32" rx="10" ry="10" fill="#fff" stroke="#13892f" stroke-width="2.2"/><text x="0" y="8.3" font-size="23" text-anchor="middle" fill="#1c1a1e">18</text></g>
<text transform="translate(376,403) rotate(0)" font-size="28" text-anchor="start" fill="#d20a2f" font-style="italic">LEMEZI</text>
<text transform="translate(625,601) rotate(0)" font-size="28" text-anchor="start" fill="#d20a2f" font-style="italic"><tspan x="0" y="0">BRIJEŠKO</tspan><tspan x="0" y="36">BRDO</tspan></text>
<text transform="translate(922,146) rotate(0)" font-size="28" text-anchor="start" fill="#d20a2f" font-style="italic">ŽUČ</text>
<text transform="translate(1290,301) rotate(0)" font-size="28" text-anchor="start" fill="#d20a2f" font-style="italic">BUŠČA</text>
<text transform="translate(1585,483) rotate(0)" font-size="28" text-anchor="start" fill="#d20a2f" font-style="italic">VELEŠIČI</text>
<text transform="translate(1912,372) rotate(90)" font-size="28" text-anchor="start" fill="#d20a2f" font-style="italic">KOŠEVO</text>
<text transform="translate(1824,487) rotate(90)" font-size="28" text-anchor="start" fill="#d20a2f" font-style="italic">CIGLANE</text>
<text transform="translate(2403,272) rotate(0)" font-size="28" text-anchor="start" fill="#d20a2f" font-style="italic"><tspan x="0" y="0">ŠKALIN</tspan><tspan x="0" y="37">SOKAK</tspan></text>
<text transform="translate(2311,616) rotate(-52)" font-size="30" text-anchor="start" fill="#d20a2f" font-style="italic">VRATNIK</text>
<text transform="translate(2426,639) rotate(0)" font-size="30" text-anchor="start" fill="#d20a2f" font-style="italic">OPHODA</text>
<text transform="translate(2275,693) rotate(-29)" font-size="31" text-anchor="start" fill="#d20a2f" font-style="italic">KOVAČI</text>
<text transform="translate(2332,742) rotate(0)" font-size="30" text-anchor="start" fill="#d20a2f" font-style="italic">DARIVA</text>
<text transform="translate(1928,591) rotate(-37)" font-size="28" text-anchor="start" fill="#d20a2f" font-style="italic">BJELAVE</text>
<text transform="translate(2336,790) rotate(36.7)" font-size="28" text-anchor="start" fill="#d20a2f" font-style="italic">ALIFAKOVAC</text>
<text transform="translate(2227,1017) rotate(0)" font-size="28" text-anchor="start" fill="#d20a2f" font-style="italic">BISTRIK</text>
<text transform="translate(1778,1201) rotate(0)" font-size="28" text-anchor="start" fill="#d20a2f" font-style="italic">VRANJAČE</text>
<text transform="translate(1864,1473) rotate(0)" font-size="28" text-anchor="start" fill="#d20a2f" font-style="italic">MILJEVIČI</text>
<text transform="translate(725,1346) rotate(0)" font-size="28" text-anchor="middle" fill="#d20a2f" font-style="italic"><tspan x="0" y="0">STUPSKO</tspan><tspan x="0" y="36">BRDO</tspan></text>
<text transform="translate(733,1035) rotate(0)" font-size="28" text-anchor="start" fill="#d20a2f" font-style="italic">HALILOVIĆI</text>
<text transform="translate(786,813) rotate(0)" font-size="28" text-anchor="start" fill="#d20a2f" font-style="italic">VITKOVAC</text>
<text transform="translate(1288,1208) rotate(0)" font-size="28" text-anchor="start" fill="#d20a2f" font-style="italic">ANEKS</text>
<text transform="translate(876,1316) rotate(0)" font-size="28" text-anchor="start" fill="#d20a2f" font-style="italic"><tspan x="0" y="0">VOJ.</tspan><tspan x="0" y="36">PLJE</tspan></text>
<text transform="translate(882,1567) rotate(-67)" font-size="31" text-anchor="start" fill="#d20a2f" font-style="italic">MOJMILO</text>
<text transform="translate(581,1908) rotate(0)" font-size="28" text-anchor="start" fill="#d20a2f" font-style="italic">BUTMIR</text>
<text transform="translate(1052,1799) rotate(13)" font-size="28" text-anchor="start" fill="#d20a2f" font-style="italic">NASELJE</text>
<text transform="translate(1212,1839) rotate(12.5)" font-size="28" text-anchor="start" fill="#d20a2f" font-style="italic">SLOBODE</text>
<text transform="translate(1589,1586) rotate(0)" font-size="28" text-anchor="start" fill="#d20a2f" font-style="italic">TURBE</text>
<text transform="translate(276,1170) rotate(51)" font-size="28" text-anchor="start" fill="#0d9ad9">Bosna</text>
<text transform="translate(995,1055) rotate(-18)" font-size="30" text-anchor="start" fill="#0d9ad9">Miljacka</text>
<g transform="translate(995,1055) rotate(-18)"><path d="M-36,-9.5 L-9,-9.5" stroke="#0d9ad9" stroke-width="3.2" fill="none"/><path d="M-38,-9.5 L-29,-15 L-29,-4 Z" fill="#0d9ad9"/></g>
<text transform="translate(1990,844) rotate(-6)" font-size="30" text-anchor="start" fill="#0d9ad9">Miljacka</text>
<g transform="translate(1990,844) rotate(-6)"><path d="M-36,-9.5 L-9,-9.5" stroke="#0d9ad9" stroke-width="3.2" fill="none"/><path d="M-38,-9.5 L-29,-15 L-29,-4 Z" fill="#0d9ad9"/></g>
<text transform="translate(218,93) rotate(37)" font-size="22" text-anchor="start" fill="#1c1a1e">71 Rječica</text>
<text transform="translate(407,221) rotate(-58)" font-size="22" text-anchor="start" fill="#1c1a1e">Raijevo Dom</text>
<text transform="translate(748,219) rotate(-39)" font-size="22" text-anchor="start" fill="#1c1a1e">22a Vogošća</text>
<text transform="translate(744,325) rotate(0)" font-size="22" text-anchor="start" fill="#1c1a1e">24 Smiljevići</text>
<text transform="translate(518,518) rotate(-57)" font-size="22" text-anchor="start" fill="#1c1a1e">Rajlovac</text>
<text transform="translate(1618,244) rotate(-57)" font-size="22" text-anchor="start" fill="#1c1a1e">Bare</text>
<text transform="translate(1021,374) rotate(-57)" font-size="22" text-anchor="start" fill="#1c1a1e"><tspan x="0" y="0.0">Buća Potok</tspan><tspan x="0" y="24.5">Okretnica</tspan></text>
<text transform="translate(1069,542) rotate(0)" font-size="22" text-anchor="middle" fill="#1c1a1e"><tspan x="0" y="0.0">Boljakov Potok</tspan><tspan x="0" y="24.5">Okretnica</tspan></text>
<text transform="translate(1553,372) rotate(0)" font-size="22" text-anchor="end" fill="#1c1a1e"><tspan x="0" y="0.0">Obad 65</tspan><tspan x="0" y="24.3">Hum 66</tspan><tspan x="0" y="48.6">Bakarevac 67</tspan></text>
<text transform="translate(1510,512) rotate(0)" font-size="22" text-anchor="end" fill="#1c1a1e"><tspan x="0" y="0.0">Pofalići</tspan><tspan x="0" y="24.3">Okretnica</tspan></text>
<text transform="translate(1735,394) rotate(-54)" font-size="22" text-anchor="start" fill="#1c1a1e">Velešići</text>
<text transform="translate(1688,587) rotate(60)" font-size="22" text-anchor="start" fill="#1c1a1e"><tspan x="0" y="0.0">Željeznička</tspan><tspan x="0" y="24.5">Stanica</tspan></text>
<text transform="translate(1876,78.6) rotate(0)" font-size="22" text-anchor="end" fill="#1c1a1e"><tspan x="0" y="0.0">Vogošća 21</tspan><tspan x="0" y="24.3">Iliaš-Lješovo 22</tspan><tspan x="0" y="48.6">Kamenica 29</tspan><tspan x="0" y="72.9">Bakići 35</tspan></text>
<text transform="translate(1905,95) rotate(0)" font-size="22" text-anchor="start" fill="#1c1a1e"><tspan x="0" y="0.0">68 Poljine</tspan><tspan x="0" y="24.5">69 Nahorevo</tspan></text>
<text transform="translate(1971,196) rotate(-57)" font-size="22" text-anchor="start" fill="#1c1a1e">Jezero</text>
<text transform="translate(2057,229) rotate(0)" font-size="22" text-anchor="start" fill="#1c1a1e"><tspan x="0" y="0.0">14 Podhrastovi</tspan><tspan x="0" y="24.5">17 Breka</tspan><tspan x="0" y="49.0">20 Jagomir</tspan><tspan x="0" y="73.5">20b Šip</tspan><tspan x="0" y="98.0">62 Hum</tspan><tspan x="0" y="122.5">64 Barice</tspan><tspan x="0" y="147.0">72 Hrastovi II</tspan><tspan x="0" y="171.5">74 Sedrenik</tspan><tspan x="0" y="196.0">89 Mrkovići</tspan></text>
<text transform="translate(2206,401) rotate(0)" font-size="22" text-anchor="start" fill="#1c1a1e"><tspan x="0" y="0.0">51 Vratnik</tspan><tspan x="0" y="24.5">52 Faletići</tspan><tspan x="0" y="49.0">55 Sedrenik</tspan><tspan x="0" y="73.5">58 Mihrivode</tspan></text>
<text transform="translate(2229,577) rotate(-58)" font-size="29" text-anchor="start" fill="#1c1a1e">Kovači</text>
<text transform="translate(2410,535) rotate(0)" font-size="22" text-anchor="start" fill="#1c1a1e"><tspan x="0" y="0.0">73 Hladivode</tspan><tspan x="0" y="24.5">95 Brusulje</tspan><tspan x="0" y="49.0">96 Hreša</tspan></text>
<text transform="translate(1937,664) rotate(-55)" font-size="22" text-anchor="start" fill="#1c1a1e">Sutjeska</text>
<text transform="translate(2031,680) rotate(-55)" font-size="22" text-anchor="start" fill="#1c1a1e">Park</text>
<text transform="translate(2125,708) rotate(-90)" font-size="22" text-anchor="start" fill="#1c1a1e">Dom Armue</text>
<text transform="translate(2213,683) rotate(-56)" font-size="22" text-anchor="start" fill="#1c1a1e">Baščaršlia</text>
<text transform="translate(1797,779) rotate(-58)" font-size="22" text-anchor="start" fill="#1c1a1e">M. Dvor</text>
<text transform="translate(1553,852) rotate(0)" font-size="22" text-anchor="start" fill="#1c1a1e">Pofalići</text>
<text transform="translate(1736,931) rotate(0)" font-size="22" text-anchor="start" fill="#1c1a1e">F. Račkog</text>
<text transform="translate(2124,996) rotate(-70)" font-size="22" text-anchor="start" fill="#1c1a1e">Trg Austrie</text>
<text transform="translate(2051,1041) rotate(-55)" font-size="22" text-anchor="start" fill="#1c1a1e">Drvenija</text>
<text transform="translate(1868,1006) rotate(60)" font-size="22" text-anchor="start" fill="#1c1a1e">Skenderija</text>
<text transform="translate(2238,835) rotate(58)" font-size="22" text-anchor="start" fill="#1c1a1e"><tspan x="0" y="0.0">Latinska</tspan><tspan x="0" y="24.5">Ćuprija</tspan></text>
<text transform="translate(2265,746) rotate(58)" font-size="22" text-anchor="start" fill="#1c1a1e">Vuećnica</text>
<text transform="translate(2144,1283) rotate(0)" font-size="22" text-anchor="end" fill="#1c1a1e"><tspan x="0" y="0.0">Komatin 59</tspan><tspan x="0" y="24.3">Trebecić-Vidikovac 98</tspan></text>
<text transform="translate(2365,1219) rotate(0)" font-size="22" text-anchor="end" fill="#1c1a1e"><tspan x="0" y="0.0">Hošin Brijeg 54</tspan><tspan x="0" y="24.5">Jarćedoli 56</tspan><tspan x="0" y="49.0">Mahmutovac 63</tspan></text>
<text transform="translate(182,775) rotate(47)" font-size="22" text-anchor="start" fill="#1c1a1e">26 Ahatovići</text>
<text transform="translate(427,1034) rotate(-55)" font-size="22" text-anchor="start" fill="#1c1a1e">Bare 1</text>
<text transform="translate(656,873) rotate(-56)" font-size="22" text-anchor="start" fill="#1c1a1e">Bruešće</text>
<text transform="translate(685,1218) rotate(-56)" font-size="22" text-anchor="start" fill="#1c1a1e">Stup</text>
<text transform="translate(783,1175) rotate(-56.5)" font-size="22" text-anchor="start" fill="#1c1a1e">Nedžarići</text>
<text transform="translate(331,1476) rotate(57)" font-size="22" text-anchor="start" fill="#1c1a1e">Ilidža</text>
<text transform="translate(996,945) rotate(-57)" font-size="22" text-anchor="start" fill="#1c1a1e">Boliakov Potok</text>
<text transform="translate(1249,884) rotate(-56.5)" font-size="22" text-anchor="start" fill="#1c1a1e">Buća Potok</text>
<text transform="translate(1211,1015) rotate(0)" font-size="22" text-anchor="end" fill="#1c1a1e">Otoka</text>
<text transform="translate(1321,978) rotate(-57)" font-size="22" text-anchor="start" fill="#1c1a1e"><tspan x="0" y="0.0">Čengić</tspan><tspan x="0" y="24.5">Vila</tspan></text>
<text transform="translate(1472,1099) rotate(55)" font-size="22" text-anchor="start" fill="#1c1a1e">Hrasno</text>
<text transform="translate(1643,1091) rotate(56)" font-size="22" text-anchor="start" fill="#1c1a1e">Grbavica</text>
<text transform="translate(1121,1239) rotate(53)" font-size="22" text-anchor="start" fill="#1c1a1e"><tspan x="0" y="0.0">Alipašino</tspan><tspan x="0" y="24.5">Polje</tspan></text>
<text transform="translate(1296,1325) rotate(57)" font-size="22" text-anchor="start" fill="#1c1a1e"><tspan x="0" y="0.0">Hrasno</tspan><tspan x="0" y="24.5">Brdo</tspan></text>
<text transform="translate(277,1667) rotate(0)" font-size="22" text-anchor="end" fill="#1c1a1e"><tspan x="0" y="0.0">Kobiljača</tspan><tspan x="0" y="24.5">Hadžići</tspan><tspan x="0" y="49.0">Vukovići</tspan><tspan x="0" y="73.5">Osjek</tspan><tspan x="0" y="98.0">Bjelašnica</tspan><tspan x="0" y="122.5">Viakovo</tspan><tspan x="0" y="147.0">Mokrine</tspan><tspan x="0" y="171.5">Mišecići</tspan><tspan x="0" y="196.0">Šabići-</tspan><tspan x="0" y="220.5">Sinanovići</tspan></text>
<text transform="translate(311,1667) rotate(0)" font-size="22" text-anchor="end" fill="#1c1a1e"><tspan x="0" y="0.0">28</tspan><tspan x="0" y="24.5">30</tspan><tspan x="0" y="49.0">33</tspan><tspan x="0" y="73.5">43</tspan><tspan x="0" y="98.0">44</tspan><tspan x="0" y="122.5">46</tspan><tspan x="0" y="147.0">75</tspan><tspan x="0" y="171.5">84</tspan><tspan x="0" y="196.0">85</tspan></text>
<text transform="translate(396,1813) rotate(41)" font-size="23" text-anchor="start" fill="#1c1a1e">32 Donji Kotorac</text>
<text transform="translate(403,1889) rotate(39)" font-size="22" text-anchor="start" fill="#1c1a1e">27a Sokolovići</text>
<text transform="translate(359,1938) rotate(39)" font-size="22" text-anchor="start" fill="#1c1a1e"><tspan x="0" y="0">27 Hrasnica (Famos)</tspan><tspan x="0" y="23">27 b Kovači (Hrasnica)</tspan></text>
<text transform="translate(827,1644) rotate(57)" font-size="22" text-anchor="end" fill="#1c1a1e"><tspan x="0" y="0.0">Aerodromsko</tspan><tspan x="0" y="24.5">Naselje</tspan></text>
<text transform="translate(831,2003) rotate(38)" font-size="22" text-anchor="start" fill="#1c1a1e">45 Dejčići</text>
<text transform="translate(908,1728) rotate(57)" font-size="22" text-anchor="start" fill="#1c1a1e">Dobrinja</text>
<rect x="1592.6" y="1699.3" width="861.4" height="367.2" fill="#f5f6fa" stroke="#5c5f68" stroke-width="1.3"/>
<line x1="1621" y1="1750" x2="1681" y2="1750" stroke="#d5072e" stroke-width="8.5" stroke-linecap="round"/>
<rect x="1697" y="1729" width="190" height="40" rx="20.0" fill="#fff" stroke="#13892f" stroke-width="3.2"/>
<text x="1792.0" y="1758.54" font-size="26.5" text-anchor="middle" fill="#1c1a1e">Tramvaj/Tram</text>
<line x1="2068" y1="1749" x2="2129" y2="1749" stroke="#1c1a1e" stroke-width="9" stroke-linecap="round"/>
<line x1="2068" y1="1749" x2="2129" y2="1749" stroke="#0d9ad9" stroke-width="7" stroke-linecap="round"/>
<rect x="2142" y="1728" width="280" height="40" rx="20.0" fill="#fff" stroke="#13892f" stroke-width="3.2"/>
<text x="2282.0" y="1757.54" font-size="26.5" text-anchor="middle" fill="#1c1a1e">Trolejbus/Electro-Bus</text>
<line x1="2069" y1="2020.6" x2="2129" y2="2020.6" stroke="#1c1a1e" stroke-width="8.5" stroke-linecap="round"/>
<rect x="2150" y="2000" width="236" height="41" rx="20.5" fill="#fff" stroke="#13892f" stroke-width="3.2"/>
<text x="2268.0" y="2030.04" font-size="26.5" text-anchor="middle" fill="#1c1a1e">Autobus/Minibus</text>
<rect x="1621.5" y="1787.5" width="52" height="31" rx="8" fill="#fff" stroke="#13892f" stroke-width="2"/>
<text x="1647.5" y="1811.5" font-size="23" text-anchor="middle" fill="#1c1a1e">1</text>
<text x="1697" y="1811.5" font-size="22.3" fill="#1c1a1e">Baščaršija – Željeznička stanica</text>
<rect x="1621.5" y="1824.55" width="52" height="31" rx="8" fill="#fff" stroke="#13892f" stroke-width="2"/>
<text x="1647.5" y="1848.55" font-size="23" text-anchor="middle" fill="#1c1a1e">2</text>
<text x="1697" y="1848.55" font-size="22.3" fill="#1c1a1e">Baščaršija – Čengić Vila</text>
<rect x="1621.5" y="1861.6" width="52" height="31" rx="8" fill="#fff" stroke="#13892f" stroke-width="2"/>
<text x="1647.5" y="1885.6" font-size="23" text-anchor="middle" fill="#1c1a1e">3</text>
<text x="1697" y="1885.6" font-size="22.3" fill="#1c1a1e">Baščaršija – Ilidža</text>
<rect x="1621.5" y="1898.65" width="52" height="31" rx="8" fill="#fff" stroke="#13892f" stroke-width="2"/>
<text x="1647.5" y="1922.65" font-size="23" text-anchor="middle" fill="#1c1a1e">4</text>
<text x="1697" y="1922.65" font-size="22.3" fill="#1c1a1e">Željeznička stanica – Ilidža</text>
<rect x="1621.5" y="1935.7" width="52" height="31" rx="8" fill="#fff" stroke="#13892f" stroke-width="2"/>
<text x="1647.5" y="1959.7" font-size="23" text-anchor="middle" fill="#1c1a1e">5</text>
<text x="1697" y="1959.7" font-size="22.3" fill="#1c1a1e">Baščaršija – Nedžarići</text>
<rect x="1621.5" y="1972.75" width="52" height="31" rx="8" fill="#fff" stroke="#13892f" stroke-width="2"/>
<text x="1647.5" y="1996.75" font-size="23" text-anchor="middle" fill="#1c1a1e">6</text>
<text x="1697" y="1996.75" font-size="22.3" fill="#1c1a1e">Skenderija – Ildža</text>
<rect x="2075.5" y="1787.5" width="52" height="31" rx="8" fill="#fff" stroke="#13892f" stroke-width="2"/>
<text x="2101.5" y="1811.5" font-size="22" text-anchor="middle" fill="#1c1a1e">101</text>
<text x="2140" y="1811.5" font-size="22.3" fill="#1c1a1e">Otoka – Trg Austrije</text>
<rect x="2075.5" y="1824.55" width="52" height="31" rx="8" fill="#fff" stroke="#13892f" stroke-width="2"/>
<text x="2101.5" y="1848.55" font-size="22" text-anchor="middle" fill="#1c1a1e">102</text>
<text x="2140" y="1848.55" font-size="22.3" fill="#1c1a1e">Otoka – Jezero</text>
<rect x="2075.5" y="1861.6" width="52" height="31" rx="8" fill="#fff" stroke="#13892f" stroke-width="2"/>
<text x="2101.5" y="1885.6" font-size="22" text-anchor="middle" fill="#1c1a1e">103</text>
<text x="2140" y="1885.6" font-size="22.3" fill="#1c1a1e">Dobrinja – Trg Austrije</text>
<rect x="2075.5" y="1898.65" width="52" height="31" rx="8" fill="#fff" stroke="#13892f" stroke-width="2"/>
<text x="2101.5" y="1922.65" font-size="22" text-anchor="middle" fill="#1c1a1e">104</text>
<text x="2140" y="1922.65" font-size="22.3" fill="#1c1a1e">Alipašino Polje – Trg Austrije</text>
<rect x="2075.5" y="1935.7" width="52" height="31" rx="8" fill="#fff" stroke="#13892f" stroke-width="2"/>
<text x="2101.5" y="1959.7" font-size="22" text-anchor="middle" fill="#1c1a1e">107</text>
<text x="2140" y="1959.7" font-size="22.3" fill="#1c1a1e">Dobrinja – Jezero</text>
<rect x="0" y="2162" width="2598" height="82" fill="#7790b5"/>
<rect x="0" y="2161.2" width="2598" height="2" fill="#225088"/>
<text x="227" y="2217.5" font-size="40.5" font-weight="bold" fill="#fff" textLength="627" lengthAdjust="spacingAndGlyphs">Sarajevo, Öffentliches Verkehrsnetz</text>
</svg></body></html>
